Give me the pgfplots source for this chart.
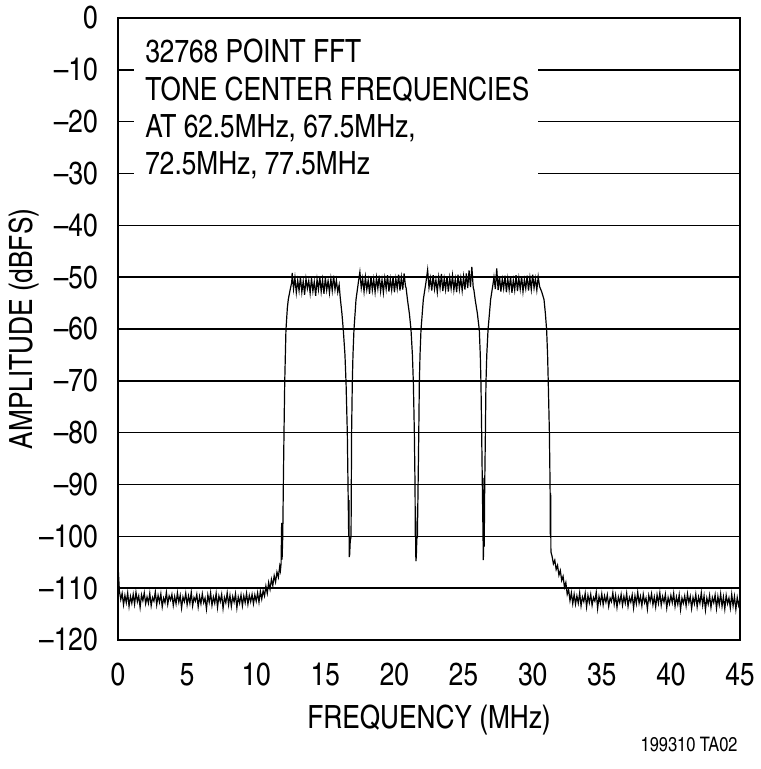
\documentclass[border=0pt]{standalone}
\usepackage{pgfplots}
\pgfplotsset{compat=1.18}
\usepackage{fontspec}
\setmainfont{TeX Gyre Heros Cn}

\begin{document}
\begin{tikzpicture}
\begin{axis}[
  at={(0,0)}, anchor=south west,
  scale only axis, width=311pt, height=311pt,
  xmin=0, xmax=45, ymin=-120, ymax=0,
  xtick={0,5,...,45},
  xticklabels={0,5,10,15,20,25,30,35,40,45},
  ytick={-120,-110,...,0},
  yticklabels={--120,--110,--100,--90,--80,--70,--60,--50,--40,--30,--20,--10,0},
  major tick length=0pt,
  ymajorgrids,
  grid style={black, line width=0.75pt},
  axis line style={black, line width=0.85pt},
  tick label style={font=\fontsize{16}{19}\selectfont, inner sep=0pt},
  xticklabel style={anchor=base, yshift=-22.5pt},
  yticklabel style={anchor=east, xshift=-10pt},
  label style={font=\fontsize{16}{19}\selectfont, inner sep=0pt},
  xlabel={FREQUENCY (MHz)},
  xlabel style={at={(axis description cs:0.5,-0.1415)}, anchor=base},
  ylabel={AMPLITUDE (dBFS)},
  ylabel style={at={(axis description cs:-0.1367,0.5)}, anchor=base},
  /pgf/number format/assume math mode=true,
]
\addplot[black, line width=0.6pt] coordinates {
(0,-105.5) (0.05,-108) (0.1,-110.5) (0.2,-112.2)
(0.3,-111.0) (0.4,-113.2) (0.5,-111.4) (0.6,-112.8) (0.7,-110.9) (0.8,-113.5) (0.9,-111.6) (1.0,-112.9)
(1.1,-111.2) (1.2,-113.1) (1.3,-110.8) (1.4,-112.6) (1.5,-111.5) (1.6,-113.7) (1.7,-111.3) (1.8,-112.4)
(1.9,-110.9) (2.0,-113.0) (2.1,-111.7) (2.2,-112.9) (2.3,-111.0) (2.4,-113.4) (2.5,-111.8) (2.6,-112.5)
(2.7,-110.7) (2.8,-113.2) (2.9,-111.4) (3.0,-112.7) (3.1,-111.1) (3.2,-113.6) (3.3,-111.9) (3.4,-112.8)
(3.5,-110.8) (3.6,-113.1) (3.7,-111.5) (3.8,-112.3) (3.9,-111.2) (4.0,-113.3) (4.1,-111.6) (4.2,-113.0)
(4.3,-110.9) (4.4,-112.7) (4.5,-111.4) (4.6,-113.8) (4.7,-111.7) (4.8,-112.6) (4.9,-111.0) (5.0,-113.2)
(5.1,-111.5) (5.2,-112.9) (5.3,-110.8) (5.4,-113.4) (5.5,-111.8) (5.6,-112.5) (5.7,-111.2) (5.8,-113.6)
(5.9,-111.6) (6.0,-113.0) (6.1,-111.1) (6.2,-112.8) (6.3,-111.9) (6.4,-114.0) (6.5,-111.3) (6.6,-112.7)
(6.7,-110.9) (6.8,-113.3) (6.9,-111.7) (7.0,-112.9) (7.1,-111.0) (7.2,-113.7) (7.3,-111.5) (7.4,-112.6)
(7.5,-111.2) (7.6,-113.9) (7.7,-111.8) (7.8,-112.8) (7.9,-110.9) (8.0,-113.2) (8.1,-111.4) (8.2,-113.5)
(8.3,-111.6) (8.4,-112.7) (8.5,-111.1) (8.6,-113.8) (8.7,-111.7) (8.8,-112.9) (8.9,-111.3) (9.0,-113.4)
(9.1,-111.5) (9.2,-112.8) (9.3,-111.0) (9.4,-113.1) (9.5,-111.4) (9.6,-112.6) (9.7,-111.2) (9.8,-113.0)
(9.9,-111.3) (10.0,-112.5) (10.1,-110.9) (10.2,-112.7) (10.3,-110.6) (10.4,-112.1) (10.5,-110.5)
(10.6,-111.5) (10.7,-109.6) (10.8,-111.0) (10.9,-108.9) (11.0,-110.2) (11.1,-108.3) (11.2,-109.5)
(11.3,-107.6) (11.4,-108.8) (11.5,-106.9) (11.6,-107.9) (11.7,-105.8) (11.75,-106.6) (11.8,-105.2)
(11.84,-97.4) (11.87,-104.5) (11.92,-100) (11.96,-90.4) (12.01,-80) (12.06,-70.5) (12.15,-60.2)
(12.25,-56) (12.32,-54.3) (12.45,-52.5) (12.57,-51)
(12.6,-49.2) (12.7,-52.3) (12.8,-50.1) (12.9,-53.0) (13.0,-50.6) (13.1,-52.6) (13.2,-50.0) (13.3,-52.9)
(13.4,-50.8) (13.5,-53.4) (13.6,-50.3) (13.7,-52.2) (13.8,-50.7) (13.9,-53.1) (14.0,-50.2) (14.1,-52.7)
(14.2,-50.9) (14.3,-53.6) (14.4,-50.4) (14.5,-52.4) (14.6,-49.9) (14.7,-52.8) (14.8,-50.5) (14.9,-53.2)
(15.0,-50.1) (15.1,-52.5) (15.2,-50.7) (15.3,-53.0) (15.4,-50.3) (15.5,-52.6) (15.6,-49.7) (15.7,-52.4)
(15.8,-50.6) (15.9,-52.9) (16.0,-51.5)
(16.08,-54) (16.2,-57) (16.3,-60.2) (16.42,-65) (16.5,-70.5) (16.59,-80) (16.64,-90) (16.69,-100)
(16.71,-93) (16.73,-104) (16.76,-103.5) (16.8,-101) (16.86,-100) (16.88,-90) (16.9,-80) (16.95,-70.5)
(17.0,-65) (17.07,-60.2) (17.22,-54.3) (17.39,-51)
(17.5,-49.0) (17.6,-52.1) (17.7,-50.3) (17.8,-52.8) (17.9,-50.0) (18.0,-52.4) (18.1,-50.6) (18.2,-53.2)
(18.3,-49.8) (18.4,-52.5) (18.5,-50.4) (18.6,-52.9) (18.7,-50.1) (18.8,-52.2) (18.9,-49.7) (19.0,-52.7)
(19.1,-50.5) (19.2,-53.0) (19.3,-50.2) (19.4,-52.3) (19.5,-49.6) (19.6,-52.8) (19.7,-50.4) (19.8,-52.5)
(19.9,-49.9) (20.0,-52.9) (20.1,-50.3) (20.2,-52.2) (20.3,-49.5) (20.4,-52.6) (20.5,-50.0) (20.6,-52.4)
(20.7,-49.3) (20.8,-51.8)
(20.84,-52) (20.95,-54.5) (21.08,-57) (21.2,-60.2) (21.3,-65) (21.37,-70.5) (21.44,-80) (21.49,-90.4)
(21.51,-100) (21.53,-94.3) (21.55,-104.8) (21.58,-104) (21.62,-100.5) (21.66,-100) (21.71,-90.4)
(21.76,-80) (21.8,-70.5) (21.85,-65) (21.92,-60.2) (22.09,-54.3) (22.28,-51)
(22.4,-48.6) (22.5,-52.0) (22.6,-50.2) (22.7,-52.6) (22.8,-49.6) (22.9,-52.3) (23.0,-50.5) (23.1,-52.9)
(23.2,-50.0) (23.3,-52.1) (23.4,-49.4) (23.5,-52.7) (23.6,-50.3) (23.7,-52.4) (23.8,-49.8) (23.9,-52.8)
(24.0,-50.1) (24.1,-52.2) (24.2,-49.7) (24.3,-52.5) (24.4,-50.4) (24.5,-52.9) (24.6,-49.5) (24.7,-52.3)
(24.8,-50.2) (24.9,-52.6) (25.0,-49.9) (25.1,-52.4) (25.2,-49.3) (25.3,-52.1) (25.4,-48.7) (25.5,-51.9)
(25.6,-48.0) (25.7,-52.0)
(25.75,-52.5) (25.85,-54.5) (26.0,-57) (26.14,-60.2) (26.21,-65) (26.26,-70.5) (26.31,-80) (26.36,-90.4)
(26.41,-100) (26.43,-104.6) (26.46,-101) (26.47,-88.7) (26.49,-102) (26.5,-100) (26.53,-90.4)
(26.58,-80) (26.62,-70.5) (26.68,-65) (26.77,-60.2) (26.96,-54.3) (27.15,-51)
(27.2,-50.0) (27.3,-52.3) (27.4,-48.3) (27.5,-52.5) (27.6,-49.8) (27.7,-52.8) (27.8,-50.4) (27.9,-52.2)
(28.0,-49.7) (28.1,-52.9) (28.2,-50.3) (28.3,-52.4) (28.4,-49.9) (28.5,-53.0) (28.6,-50.6) (28.7,-52.5)
(28.8,-49.6) (28.9,-52.7) (29.0,-50.2) (29.1,-52.3) (29.2,-49.8) (29.3,-52.8) (29.4,-50.5) (29.5,-52.2)
(29.6,-49.7) (29.7,-52.6) (29.8,-50.1) (29.9,-52.4) (30.0,-49.5) (30.1,-52.1) (30.2,-50.3) (30.3,-52.5)
(30.4,-49.9) (30.5,-51.8)
(30.65,-52.8) (30.82,-54.3) (30.92,-57) (31.01,-60.2) (31.08,-65) (31.13,-70.5) (31.21,-80) (31.26,-90.4)
(31.28,-100) (31.3,-91.6) (31.32,-103) (31.4,-103.8) (31.5,-105.3) (31.6,-104.6) (31.7,-106.4)
(31.8,-105.6) (31.9,-107.5) (32.0,-106.6) (32.1,-108.5) (32.2,-107.7) (32.3,-109.8) (32.4,-108.9)
(32.5,-111.2) (32.6,-110.3) (32.7,-112.4) (32.8,-110.9) (32.9,-113.0)
(33.0,-111.2) (33.1,-113.1) (33.2,-111.5) (33.3,-112.9) (33.4,-110.9) (33.5,-113.4) (33.6,-111.7) (33.7,-112.6)
(33.8,-111.0) (33.9,-113.6) (34.0,-111.4) (34.1,-112.8) (34.2,-111.2) (34.3,-113.3) (34.4,-111.8) (34.5,-112.5)
(34.6,-110.8) (34.7,-113.9) (34.8,-111.6) (34.9,-112.9) (35.0,-111.1) (35.1,-113.2) (35.2,-111.5) (35.3,-112.7)
(35.4,-111.3) (35.5,-113.5) (35.6,-111.9) (35.7,-112.6) (35.8,-110.9) (35.9,-113.1) (36.0,-111.4) (36.1,-113.7)
(36.2,-111.7) (36.3,-112.8) (36.4,-111.2) (36.5,-113.3) (36.6,-111.6) (36.7,-112.9) (36.8,-111.0) (36.9,-113.5)
(37.0,-111.8) (37.1,-112.7) (37.2,-111.3) (37.3,-113.8) (37.4,-111.5) (37.5,-113.0) (37.6,-110.8) (37.7,-112.9)
(37.8,-111.6) (37.9,-113.4) (38.0,-111.2) (38.1,-112.8) (38.2,-111.9) (38.3,-114.0) (38.4,-111.4) (38.5,-112.6)
(38.6,-111.1) (38.7,-113.2) (38.8,-111.7) (38.9,-113.6) (39.0,-111.3) (39.1,-112.9) (39.2,-110.9) (39.3,-113.3)
(39.4,-111.6) (39.5,-112.7) (39.6,-111.2) (39.7,-113.8) (39.8,-111.8) (39.9,-113.0) (40.0,-111.4) (40.1,-112.8)
(40.2,-111.0) (40.3,-113.5) (40.4,-111.7) (40.5,-113.1) (40.6,-111.3) (40.7,-114.1) (40.8,-111.9) (40.9,-112.9)
(41.0,-111.5) (41.1,-113.4) (41.2,-111.1) (41.3,-112.8) (41.4,-111.6) (41.5,-113.9) (41.6,-111.8) (41.7,-113.0)
(41.8,-111.2) (41.9,-113.6) (42.0,-111.7) (42.1,-112.9) (42.2,-110.9) (42.3,-113.3) (42.4,-111.5) (42.5,-114.2)
(42.6,-111.9) (42.7,-113.1) (42.8,-111.4) (42.9,-113.7) (43.0,-111.8) (43.1,-112.8) (43.2,-111.3) (43.3,-113.9)
(43.4,-111.6) (43.5,-113.2) (43.6,-111.1) (43.7,-113.5) (43.8,-111.7) (43.9,-114.0) (44.0,-111.4) (44.1,-113.0)
(44.2,-111.9) (44.3,-113.8) (44.4,-111.2) (44.5,-113.4) (44.6,-111.6) (44.7,-114.1) (44.8,-111.8) (44.9,-113.3)
(45.0,-112.0)
};
% white panel behind the annotation
\fill[white] (axis cs:1.16,-2.3) rectangle (axis cs:30.4,-33.5);
\begin{scope}[every node/.style={anchor=base west, inner sep=0pt, font=\fontsize{16}{19}\selectfont}]
\node at (axis cs:1.95,-8.68) {32768 POINT FFT};
\node at (axis cs:1.95,-16.01) {TONE CENTER FREQUENCIES};
\node at (axis cs:1.95,-23.15) {AT 62.5MHz, 67.5MHz,};
\node at (axis cs:1.95,-30.29) {72.5MHz, 77.5MHz};
\end{scope}
\end{axis}
\node[anchor=base east, inner sep=0pt, font=\fontsize{10}{12}\selectfont] at (310pt,-56pt) {199310 TA02};
\pgfresetboundingbox
\path[use as bounding box] (-59pt,-64.5pt) rectangle (321pt,320pt);
\end{tikzpicture}
\end{document}
